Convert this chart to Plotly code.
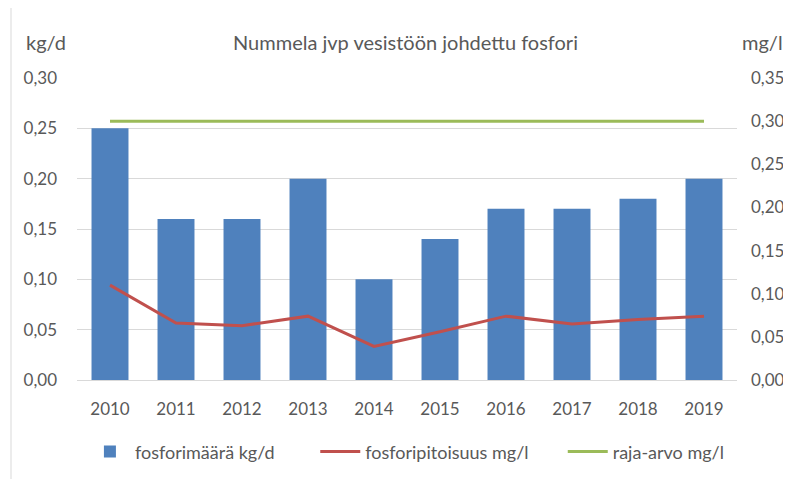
import plotly.graph_objects as go

years = ['2010', '2011', '2012', '2013', '2014', '2015', '2016', '2017', '2018', '2019']
kg_per_day = [0.25, 0.16, 0.16, 0.20, 0.10, 0.14, 0.17, 0.17, 0.18, 0.20]
mg_per_l = [0.110, 0.066, 0.063, 0.074, 0.039, 0.056, 0.074, 0.065, 0.070, 0.074]
limit_mg_per_l = [0.30] * len(years)

bar_color = '#4F81BD'
conc_color = '#C0504D'
limit_color = '#9BBB59'
text_color = '#595959'
grid_color = '#D9D9D9'
font_family = 'Lato, Open Sans, sans-serif'

fig = go.Figure()
fig.add_trace(go.Bar(
    name='fosforimäärä kg/d',
    x=years,
    y=kg_per_day,
    marker=dict(color=bar_color, line=dict(width=0)),
    yaxis='y',
    legend='legend',
))
fig.add_trace(go.Scatter(
    name='fosforipitoisuus mg/l',
    x=years,
    y=mg_per_l,
    mode='lines',
    line=dict(color=conc_color, width=3),
    yaxis='y2',
    legend='legend2',
))
fig.add_trace(go.Scatter(
    name='raja-arvo mg/l',
    x=years,
    y=limit_mg_per_l,
    mode='lines',
    line=dict(color=limit_color, width=3),
    yaxis='y2',
    legend='legend3',
))

legend_style = dict(
    orientation='h',
    xanchor='left',
    y=-0.238,
    yanchor='middle',
    font=dict(size=18, color=text_color),
    itemwidth=40,
    bgcolor='rgba(0,0,0,0)',
)

# the page body adds an 8px margin, so the figure is 8px smaller
fig.update_layout(
    width=783,
    height=471,
    margin=dict(l=69, r=54, t=70, b=99, autoexpand=False),
    paper_bgcolor='white',
    plot_bgcolor='white',
    separators=', ',
    font=dict(family=font_family, size=17, color=text_color),
    bargap=0.44,
    xaxis=dict(
        showgrid=False,
        showline=True,
        linecolor=grid_color,
        ticks='',
        automargin=False,
        ticklabelstandoff=14,
    ),
    yaxis=dict(
        range=[0, 0.30],
        dtick=0.05,
        tickformat='.2f',
        showgrid=True,
        gridcolor=grid_color,
        zeroline=False,
        ticks='',
        automargin=False,
        ticklabelstandoff=19,
    ),
    yaxis2=dict(
        range=[0, 0.35],
        dtick=0.05,
        tickformat='.2f',
        overlaying='y',
        side='right',
        showgrid=False,
        zeroline=False,
        ticks='',
        automargin=False,
        ticklabelstandoff=13,
    ),
    legend=dict(legend_style, x=0.012),
    legend2=dict(legend_style, x=0.361),
    legend3=dict(legend_style, x=0.736),
    annotations=[
        dict(text='Nummela jvp vesistöön johdettu fosfori', xref='paper', yref='paper',
             x=0.498, y=1.119, xanchor='center', yanchor='middle', showarrow=False,
             font=dict(size=20, color=text_color)),
        dict(text='kg/d', xref='paper', yref='paper', x=-0.047, y=1.119,
             xanchor='center', yanchor='middle', showarrow=False,
             font=dict(size=20, color=text_color)),
        dict(text='mg/l', xref='paper', yref='paper', x=1.073, y=1.119,
             xanchor='right', yanchor='middle', showarrow=False,
             font=dict(size=20, color=text_color)),
    ],
    shapes=[
        dict(type='rect', xref='paper', yref='paper', x0=-0.1, x1=1.12, y0=-0.4, y1=1.235,
             line=dict(color='#D9D9D9', width=1), layer='below'),
    ],
    showlegend=True,
)

fig.write_html('out.html')
